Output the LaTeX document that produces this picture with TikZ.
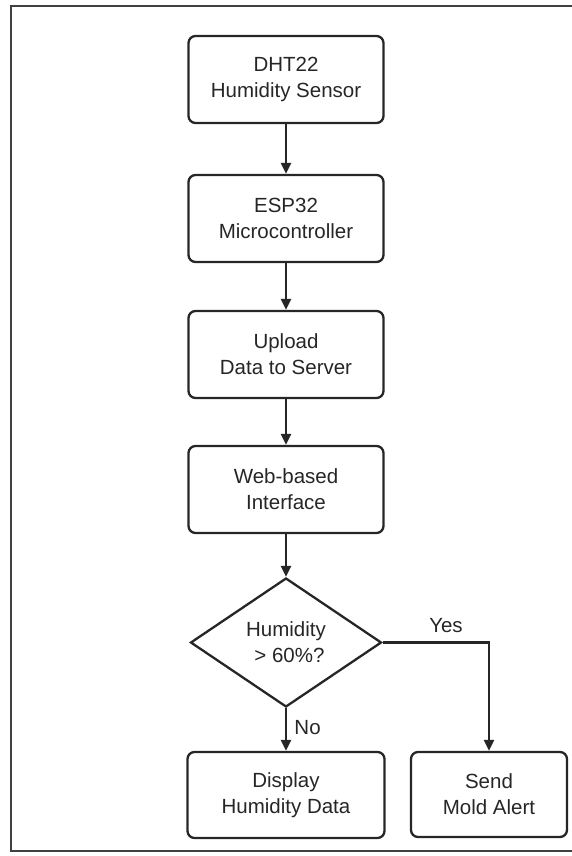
\documentclass[tikz,border=0pt]{standalone}
\usepackage{fontspec}
\setmainfont{Liberation Sans}
\usetikzlibrary{shapes.geometric,arrows.meta}
\begin{document}
\begin{tikzpicture}[x=1pt,y=-1pt,
  box/.style={draw=black!85,line width=2.3pt,rounded corners=7pt,minimum width=195pt,minimum height=87pt,align=center,font=\fontsize{20.5}{26}\selectfont,text=black!85,inner sep=0pt},
  dec/.style={draw=black!85,line width=2.3pt,diamond,minimum width=191pt,minimum height=129pt,align=center,font=\fontsize{20.5}{26}\selectfont,text=black!85,inner sep=0pt,aspect=1.48},
  arr/.style={draw=black!85,line width=2.3pt,-{Triangle[length=11pt,width=10pt]}},
  lbl/.style={font=\fontsize{20.5}{26}\selectfont,text=black!85}]
\useasboundingbox (0,0) rectangle (571,856);
\draw[black!75,line width=1.5pt] (580,6) -- (11,6) -- (11,851) -- (580,851);
\node[box] (dht) at (286,79.5) {DHT22\\Humidity Sensor};
\node[box] (esp) at (286,218.5) {ESP32\\Microcontroller};
\node[box] (up) at (286,354.5) {Upload\\Data to Server};
\node[box] (web) at (286,489.5) {Web-based\\Interface};
\node[dec] (hum) at (286,642.5) {Humidity\\\,\,{>} 60\%?};
\node[box,minimum width=197pt,minimum height=86pt] (disp) at (286,795) {Display\\Humidity Data};
\node[box,minimum width=156pt,minimum height=85pt] (send) at (489,794.5) {Send\\Mold Alert};
\draw[arr] (dht) -- (esp);
\draw[arr] (esp) -- (up);
\draw[arr] (up) -- (web);
\draw[arr] (web) -- (hum);
\draw[arr] (hum) -- node[lbl,right,xshift=4pt,yshift=2pt]{No} (disp);
\draw[arr] (hum.east) -| (send.north);
\node[lbl] (yes) at (446,626) {Yes};
\end{tikzpicture}
\end{document}
